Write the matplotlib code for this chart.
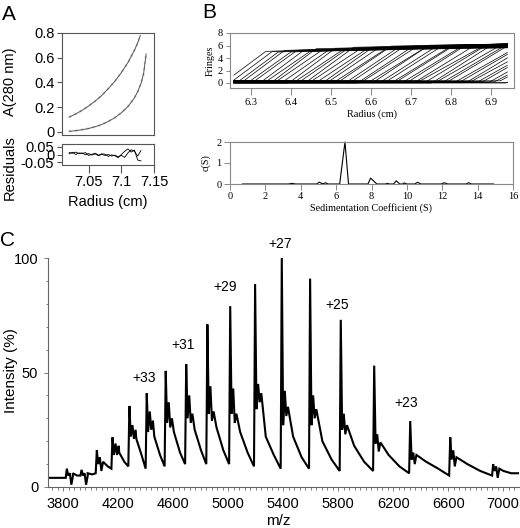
import numpy as np
import matplotlib
matplotlib.use("Agg")
import matplotlib.pyplot as plt
from matplotlib.ticker import MultipleLocator

SANS = ["Liberation Sans", "DejaVu Sans"]
SERIF = ["Liberation Serif", "DejaVu Serif"]

# ---------------- Panel A data ----------------
upper_r = [7.02, 7.03, 7.04, 7.05, 7.06, 7.07, 7.08, 7.09, 7.10, 7.11, 7.12, 7.125, 7.129]
upper_a = [0.12, 0.145, 0.175, 0.21, 0.25, 0.295, 0.35, 0.41, 0.48, 0.56, 0.66, 0.72, 0.78]
lower_r = [7.02, 7.03, 7.04, 7.05, 7.06, 7.07, 7.08, 7.09, 7.10, 7.11, 7.12, 7.125, 7.13,
           7.134, 7.138]
lower_a = [0.005, 0.01, 0.018, 0.028, 0.042, 0.06, 0.085, 0.115, 0.155, 0.205, 0.275, 0.325,
           0.39, 0.47, 0.63]
res_r = [7.020, 7.025, 7.030, 7.035, 7.040, 7.045, 7.050, 7.055, 7.060, 7.065, 7.070, 7.075,
         7.080, 7.085, 7.090, 7.095, 7.100, 7.105, 7.110, 7.115, 7.120, 7.125, 7.130]
res_1 = [0.012, 0.008, 0.015, 0.005, 0.010, -0.002, 0.006, -0.004, 0.004, -0.008, 0.002, -0.006,
         0.000, -0.010, -0.004, -0.014, -0.006, -0.018, 0.010, 0.030, 0.020, -0.010, 0.025]
res_2 = [0.004, 0.014, 0.000, 0.010, 0.006, 0.012, -0.006, 0.002, 0.008, -0.004, 0.004, 0.002,
         -0.012, -0.002, -0.008, -0.020, 0.000, 0.020, 0.035, 0.015, 0.028, -0.035, -0.040]

# ---------------- Panel B data ----------------
scan_mid = [6.287, 6.302, 6.317, 6.332, 6.347, 6.362, 6.377, 6.392, 6.407, 6.422, 6.437, 6.452,
            6.467, 6.482, 6.497, 6.512, 6.527, 6.542, 6.557, 6.572, 6.587, 6.602, 6.617, 6.632,
            6.647, 6.662, 6.677, 6.692, 6.707, 6.722, 6.737, 6.752, 6.767, 6.782, 6.797, 6.812,
            6.827, 6.842, 6.857, 6.872, 6.887, 6.902, 6.917, 6.932, 6.947, 6.962, 6.977, 6.992,
            7.007, 7.022, 7.037]
scan_width = [0.100, 0.101, 0.103, 0.104, 0.106, 0.107, 0.108, 0.110, 0.111, 0.113, 0.114, 0.115,
              0.117, 0.118, 0.120, 0.121, 0.122, 0.124, 0.125, 0.127, 0.128, 0.129, 0.131, 0.132,
              0.134, 0.135, 0.136, 0.138, 0.139, 0.141, 0.142, 0.143, 0.145, 0.146, 0.148, 0.149,
              0.150, 0.152, 0.153, 0.155, 0.156, 0.157, 0.159, 0.160, 0.162, 0.163, 0.164, 0.166,
              0.167, 0.169, 0.170]
scan_offset = [0.0, -0.1, -0.2, 0.0, -0.3, -0.1, -0.2, -0.4, 0.0, -0.2, -0.3, -0.1,
               -0.5, -0.2, 0.0, -0.3, -0.4, -0.1, -0.2, -0.5, 0.0, -0.3, -0.1, -0.4,
               -0.2, -0.6, 0.0, -0.3, -0.2, -0.5, -0.1, -0.4, 0.0, -0.3, -0.6, -0.2,
               -0.1, -0.4, -0.3, 0.0, -0.5, -0.2, -0.1, -0.4, -0.3, 0.0, -0.2, -0.5,
               -0.1, -0.3, -0.2]
scan_base = [0.3, 0.2, 0.1, 0.25, 0.15, 0.3, 0.05, 0.2, 0.1, 0.35, 0.2, 0.0,
             0.15, 0.25, 0.1, 0.3, 0.2, 0.05, 0.25, 0.15, 0.35, 0.1, 0.2, 0.0,
             0.3, 0.15, 0.25, 0.1, 0.2, 0.05, 0.3, 0.15, 0.25, 0.1, 0.35, 0.2,
             0.0, 0.25, 0.15, 0.3, 0.1, 0.2, 0.05, 0.3, 0.15, 0.25, 0.1, 0.2,
             0.35, 0.0, 0.2]
env_r = [6.25, 6.35, 6.45, 6.55, 6.65, 6.75, 6.85, 6.95]
env_f = [4.8, 5.1, 5.45, 5.7, 5.9, 6.05, 6.15, 6.25]

cs_s = [0.7, 3.3, 3.5, 3.7, 4.9, 5.05, 5.2, 5.3, 5.4, 5.55, 6.2, 6.5, 6.7, 7.8, 7.95, 8.3,
        8.8, 8.9, 9.0, 9.25, 9.4, 9.6, 9.75, 9.85, 10.0, 10.45, 10.6, 10.8, 11.95, 12.1,
        12.3, 13.35, 13.5, 13.65, 14.9]
cs_c = [0, 0, 0.03, 0, 0, 0.09, 0.02, 0.02, 0.06, 0, 0, 2.0, 0, 0, 0.28, 0,
        0, 0.03, 0, 0, 0.15, 0, 0, 0.05, 0, 0, 0.08, 0, 0, 0.06,
        0, 0, 0.06, 0, 0]

# ---------------- Panel C data ----------------
pk_mz = [3827, 3934, 4045, 4159, 4282, 4408, 4546, 4695, 4849, 5015, 5196, 5390, 5596, 5819,
         6062, 6324, 6615, 6927]
pk_h = [8, 7.5, 16, 21.7, 35.4, 40.9, 50.7, 53.7, 71, 79, 88.6, 100, 91, 73, 53, 28.8, 21.7, 10]
dip_h = [5, 5, 10, 14, 22, 24, 28, 30, 32, 32, 34, 27, 27, 25, 19, 12, 12, 7]
sat1_h = [6, 6, 13, 19, 27, 33, 37, 40, 44, 43, 45, 42, 40, 32, 23, 15, 16, 9]
sat2_h = [5, 5, 11, 18, 25, 29, 30, 32, 33, 32, 41, 35, 34, 27, 19.5, 14, 13, 8]
tail1_h = [6, 6, 11, 15, 21, 22, 24, 25, 26, 24, 22, 22, 20, 18, 14, 11, 10, 7]
tail2_h = [5, 5.5, 9, 11, 14, 14, 15, 16, 16, 15, 14, 13, 12, 11, 9, 8, 7, 6]
valley_h = [4, 5, 6, 8, 9, 8, 9, 10, 10, 10, 9, 8, 8, 7, 7, 6, 5, 5]
ms_start, ms_end = (3690, 4), (7115, 6)
labels_c = ["+33", "+31", "+29", "+27", "+25", "+23"]
labels_x = [4389, 4673, 4978, 5378, 5793, 6294]
labels_y = [47.6, 62, 87.3, 106.3, 79.5, 36.7]

# ---------------- Figure ----------------
W, H = 520, 528
fig = plt.figure(figsize=(W / 100, H / 100), dpi=100)


def box(l, t, r, b):
    return [l / W, 1 - b / H, (r - l) / W, (b - t) / H]


# ---- Panel A ----
axA = fig.add_axes(box(62, 33, 154, 135))
axR = fig.add_axes(box(62, 144, 154, 165))
acol = "#555555"
for ax in (axA, axR):
    for s in ax.spines.values():
        s.set_color(acol)
        s.set_linewidth(0.8)
    ax.set_xlim(7.009, 7.15)
axA.plot(upper_r, upper_a, ls=":", lw=1.6, color="#c8c8c8")
axA.plot(lower_r, lower_a, ls=":", lw=1.6, color="#c8c8c8")
axA.plot(upper_r, upper_a, color="#555555", lw=0.7)
axA.plot(lower_r, lower_a, color="#555555", lw=0.7)
axA.set_ylim(-0.025, 0.8)
axA.set_yticks([0, 0.2, 0.4, 0.6, 0.8])
axA.set_yticklabels(["0", "0.2", "0.4", "0.6", "0.8"], family=SANS, fontsize=10.5)
axA.set_xticks([])
axA.tick_params(axis="y", direction="out", length=3.5, width=0.8, color=acol, pad=2)
axA.set_ylabel("A(280 nm)", family=SANS, fontsize=10.5)
axA.yaxis.set_label_coords(-0.49, 0.52)

axR.plot(res_r, res_1, color="black", lw=0.6)
axR.plot(res_r, res_2, color="black", lw=0.6)
axR.set_ylim(-0.066, 0.066)
axR.set_yticks([0.05, 0, -0.05])
axR.set_yticklabels(["0.05", "0", "-0.05"], family=SANS, fontsize=10.5)
axR.set_xticks([7.05, 7.1, 7.15])
axR.set_xticklabels(["7.05", "7.1", "7.15"], family=SANS, fontsize=10.5)
axR.tick_params(axis="y", direction="out", length=3.5, width=0.8, color=acol, pad=2)
axR.tick_params(axis="x", direction="out", length=5.5, width=0.8, color=acol, pad=2)
axR.set_ylabel("Residuals", family=SANS, fontsize=10.5)
axR.yaxis.set_label_coords(-0.49, -0.1)
axR.set_xlabel("Radius (cm)", family=SANS, fontsize=10.5, labelpad=4)
fig.text(2 / W, 1 - 20 / H, "A", family=SANS, fontsize=15)

# ---- Panel B top ----
bcol = "#888888"
axB = fig.add_axes(box(230, 33, 514, 88))
rgrid = np.arange(6.257, 6.941, 0.002)
for mid, w, off, b in zip(scan_mid, scan_width, scan_offset, scan_base):
    top_r = mid + w / 2
    top_f = float(np.interp(top_r, env_r, env_f)) + off
    end_f = float(np.interp(6.94, env_r, env_f)) + off
    slope = (end_f - top_f) / max(6.94 - top_r, 1e-3)
    xp = [5.0, mid - w / 2, top_r, 8.0]
    fp = [b, b, top_f, top_f + slope * (8.0 - top_r)]
    axB.plot(rgrid, np.interp(rgrid, xp, fp), color="black", lw=0.5)
axB.set_xlim(6.2475, 6.9575)
axB.set_ylim(-0.8, 8)
axB.set_xticks([6.3, 6.4, 6.5, 6.6, 6.7, 6.8, 6.9])
axB.set_yticks([0, 2, 4, 6, 8])
for s in axB.spines.values():
    s.set_color(bcol)
    s.set_linewidth(0.8)
axB.tick_params(axis="x", direction="out", length=5, width=0.7, color=bcol, pad=2, labelsize=7.5)
axB.tick_params(axis="y", direction="out", length=3, width=0.7, color=bcol, pad=2, labelsize=7.5)
for lab in axB.get_xticklabels() + axB.get_yticklabels():
    lab.set_family(SERIF)
axB.set_xlabel("Radius (cm)", family=SERIF, fontsize=7.3, labelpad=2)
axB.set_ylabel("Fringes", family=SERIF, fontsize=7.3, labelpad=2)
fig.text(202 / W, 1 - 18 / H, "B", family=SANS, fontsize=15)

# ---- Panel B bottom ----
axS = fig.add_axes(box(230, 142, 513, 184))
axS.plot(cs_s, cs_c, color="black", lw=0.8, clip_on=False)
axS.set_xlim(0, 16)
axS.set_ylim(0, 2)
axS.set_xticks(range(0, 17, 2))
axS.set_yticks([0, 1, 2])
for s in axS.spines.values():
    s.set_color(bcol)
    s.set_linewidth(0.8)
axS.tick_params(direction="out", length=4, width=0.7, color=bcol, pad=2, labelsize=7.5)
for lab in axS.get_xticklabels() + axS.get_yticklabels():
    lab.set_family(SERIF)
axS.set_xlabel("Sedimentation Coefficient (S)", family=SERIF, fontsize=7.3, labelpad=1)
axS.set_ylabel("c(S)", family=SERIF, fontsize=7.3, labelpad=4)

# ---- Panel C ----
axC = fig.add_axes(box(48, 258, 519, 487))
mx, my = [ms_start[0]], [ms_start[1]]
n = len(pk_mz)
for i in range(n):
    p = pk_mz[i]
    nxt = pk_mz[i + 1] if i + 1 < n else ms_end[0]
    gap = nxt - p
    mx += [p - 8, p, p + 10, p + 22, p + 33, p + 45, p + 0.4 * gap, p + 0.7 * gap]
    my += [valley_h[i], pk_h[i], dip_h[i], sat1_h[i], sat2_h[i] - 4, sat2_h[i],
           tail1_h[i], tail2_h[i]]
mx.append(ms_end[0])
my.append(ms_end[1])
axC.plot(mx, my, color="black", lw=1.5, solid_joinstyle="miter")
axC.set_xlim(3690, 7115)
axC.set_ylim(0, 100)
axC.spines["top"].set_visible(False)
axC.spines["right"].set_visible(False)
ccol = "#666666"
for s in ("left", "bottom"):
    axC.spines[s].set_color(ccol)
    axC.spines[s].set_linewidth(0.8)
axC.set_xticks(range(3800, 7001, 400))
axC.set_yticks([0, 50, 100])
axC.xaxis.set_minor_locator(MultipleLocator(40))
axC.yaxis.set_minor_locator(MultipleLocator(10))
axC.tick_params(which="both", direction="out", color=ccol, width=0.6)
axC.tick_params(which="major", length=3, pad=4, labelsize=10.5)
axC.tick_params(which="minor", length=1.8)
for lab in axC.get_xticklabels() + axC.get_yticklabels():
    lab.set_family(SANS)
axC.set_xlabel("m/z", family=SANS, fontsize=11)
axC.xaxis.set_label_coords(0.488, -0.118)
axC.set_ylabel("Intensity (%)", family=SANS, fontsize=11)
axC.yaxis.set_label_coords(-0.064, 0.51)
for t, x, y in zip(labels_c, labels_x, labels_y):
    axC.text(x, y, t, family=SANS, fontsize=10, ha="center", va="center", clip_on=False)
fig.text(0 / W, 1 - 246 / H, "C", family=SANS, fontsize=15)

fig.savefig("out.png", dpi=100)
